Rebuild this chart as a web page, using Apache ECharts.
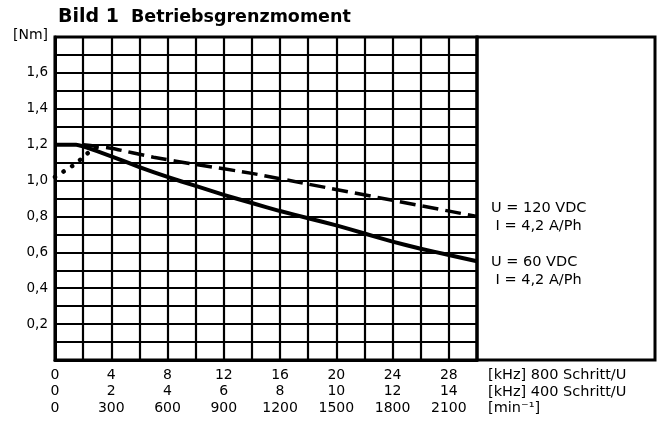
<!DOCTYPE html>
<html><head><meta charset="utf-8">
<script src="https://cdn.jsdelivr.net/npm/echarts@6/dist/echarts.min.js"></script>
<style>html,body{margin:0;padding:0;background:#fff}#c{width:658px;height:425px}</style>
</head><body><div id="c"></div>
<script>
const titleMain = 'Bild 1';
const titleSub = 'Betriebsgrenzmoment';
const yUnit = '[Nm]';
const yTickValues = [0.2, 0.4, 0.6, 0.8, 1.0, 1.2, 1.4, 1.6];
const yTickLabels = ['0,2', '0,4', '0,6', '0,8', '1,0', '1,2', '1,4', '1,6'];
const xTickKHz800 = [0, 4, 8, 12, 16, 20, 24, 28];
const xTickKHz400 = [0, 2, 4, 6, 8, 10, 12, 14];
const xTickRpm = [0, 300, 600, 900, 1200, 1500, 1800, 2100];
const xUnitLabels = ['[kHz] 800 Schritt/U', '[kHz] 400 Schritt/U', '[min\u207B\u00B9]'];

// U = 60 VDC (solid)
const freq60   = [0,   1.5,  2,    4,     6,     8,    10,   12,   14,    16,   18,   20,   22,   24,   26,   28,    30];
const torque60 = [1.2, 1.2,  1.19, 1.135, 1.075, 1.02, 0.97, 0.92, 0.875, 0.83, 0.79, 0.75, 0.705, 0.66, 0.62, 0.585, 0.55];
// U = 120 VDC (dashed)
const freq120   = [2,   3,    4,    7,    10,   14,   18,   24,   30];
const torque120 = [1.2, 1.19, 1.18, 1.13, 1.09, 1.04, 0.98, 0.89, 0.80];
// low-speed (dotted)
const freqLow   = [0,    0.8,  1.4,  2,    2.6,  3.2];
const torqueLow = [1.02, 1.06, 1.09, 1.13, 1.17, 1.19];

const legend120 = ['U = 120 VDC', ' I = 4,2 A/Ph'];
const legend60  = ['U = 60 VDC', ' I = 4,2 A/Ph'];

const FF = '"DejaVu Sans", sans-serif';
const zip = (a, b) => a.map((v, i) => [v, b[i]]);

const chart = echarts.init(document.getElementById('c'), null, {renderer: 'canvas'});
const G = {left: 55, top: 37, width: 422, height: 323};

chart.setOption({
  animation: false,
  backgroundColor: '#fff',
  title: {
    text: '{a|' + titleMain + '}{b|' + titleSub + '}',
    left: 53, top: 3,
    textStyle: {
      rich: {
        a: {fontFamily: FF, fontWeight: 'bold', fontSize: 19, color: '#000'},
        b: {fontFamily: FF, fontWeight: 'bold', fontSize: 17.5, color: '#000', padding: [0, 0, 0, 12]}
      }
    }
  },
  grid: Object.assign({show: true, borderColor: '#000', borderWidth: 3, backgroundColor: 'transparent'}, G),
  xAxis: {
    type: 'value', min: 0, max: 30, interval: 2,
    axisLine: {show: true, lineStyle: {color: '#000', width: 3}},
    axisTick: {show: false},
    splitLine: {show: true, lineStyle: {color: '#000', width: 2.2}},
    axisLabel: {
      show: true, margin: 7, color: '#000', fontFamily: FF, fontSize: 14, lineHeight: 16.5,
      verticalAlign: 'top',
      formatter: v => {
        const i = xTickKHz800.indexOf(Math.round(v));
        if (i < 0 || Math.abs(v - Math.round(v)) > 1e-6) return '';
        return xTickKHz800[i] + '\n' + xTickKHz400[i] + '\n' + xTickRpm[i];
      },
      showMaxLabel: true, showMinLabel: true, hideOverlap: false
    }
  },
  yAxis: {
    type: 'value', min: 0, max: 1.8, interval: 0.1,
    axisLine: {show: true, lineStyle: {color: '#000', width: 3}},
    axisTick: {show: false},
    splitLine: {show: true, lineStyle: {color: '#000', width: 2.2}},
    axisLabel: {
      show: true, margin: 7, color: '#000', fontFamily: FF, fontSize: 13.5,
      formatter: v => {
        const r = Math.round(v * 10) / 10;
        if (Math.abs(r - 1.8) < 1e-6) return '{u|' + yUnit + '}';
        const i = yTickValues.findIndex(t => Math.abs(t - r) < 1e-6);
        return i < 0 ? '' : yTickLabels[i];
      },
      rich: {u: {fontFamily: FF, fontSize: 14, color: '#000', padding: [0, 0, 4, 0]}},
      showMaxLabel: true, showMinLabel: true, hideOverlap: false
    }
  },
  series: [
    {type: 'line', data: zip(freq60, torque60), showSymbol: false, smooth: 0.2,
     lineStyle: {color: '#000', width: 4}, z: 5},
    {type: 'line', data: zip(freq120, torque120), showSymbol: false, smooth: 0.2,
     lineStyle: {color: '#000', width: 3.5, type: [16, 7]}, z: 5},
    {type: 'line', data: zip(freqLow, torqueLow), showSymbol: false, smooth: 0.2,
     lineStyle: {color: '#000', width: 4.5, type: [0.1, 10], cap: 'round'}, z: 5}
  ],
  graphic: [
    {type: 'rect', shape: {x: 477, y: 37, width: 178, height: 323},
     style: {fill: 'none', stroke: '#000', lineWidth: 3}, z: 10},
    {type: 'text', x: 488, y: 367, style: {text: xUnitLabels.join('\n'), fill: '#000',
      fontFamily: FF, fontSize: 14.5, lineHeight: 16.5, verticalAlign: 'top', align: 'left'}},
    {type: 'text', x: 491, y: 208, style: {text: legend120[0], fill: '#000', fontFamily: FF, fontSize: 14.5, verticalAlign: 'middle'}},
    {type: 'text', x: 491, y: 226, style: {text: legend120[1], fill: '#000', fontFamily: FF, fontSize: 14.5, verticalAlign: 'middle'}},
    {type: 'text', x: 491, y: 262, style: {text: legend60[0], fill: '#000', fontFamily: FF, fontSize: 14.5, verticalAlign: 'middle'}},
    {type: 'text', x: 491, y: 280, style: {text: legend60[1], fill: '#000', fontFamily: FF, fontSize: 14.5, verticalAlign: 'middle'}}
  ]
});
</script></body></html>
